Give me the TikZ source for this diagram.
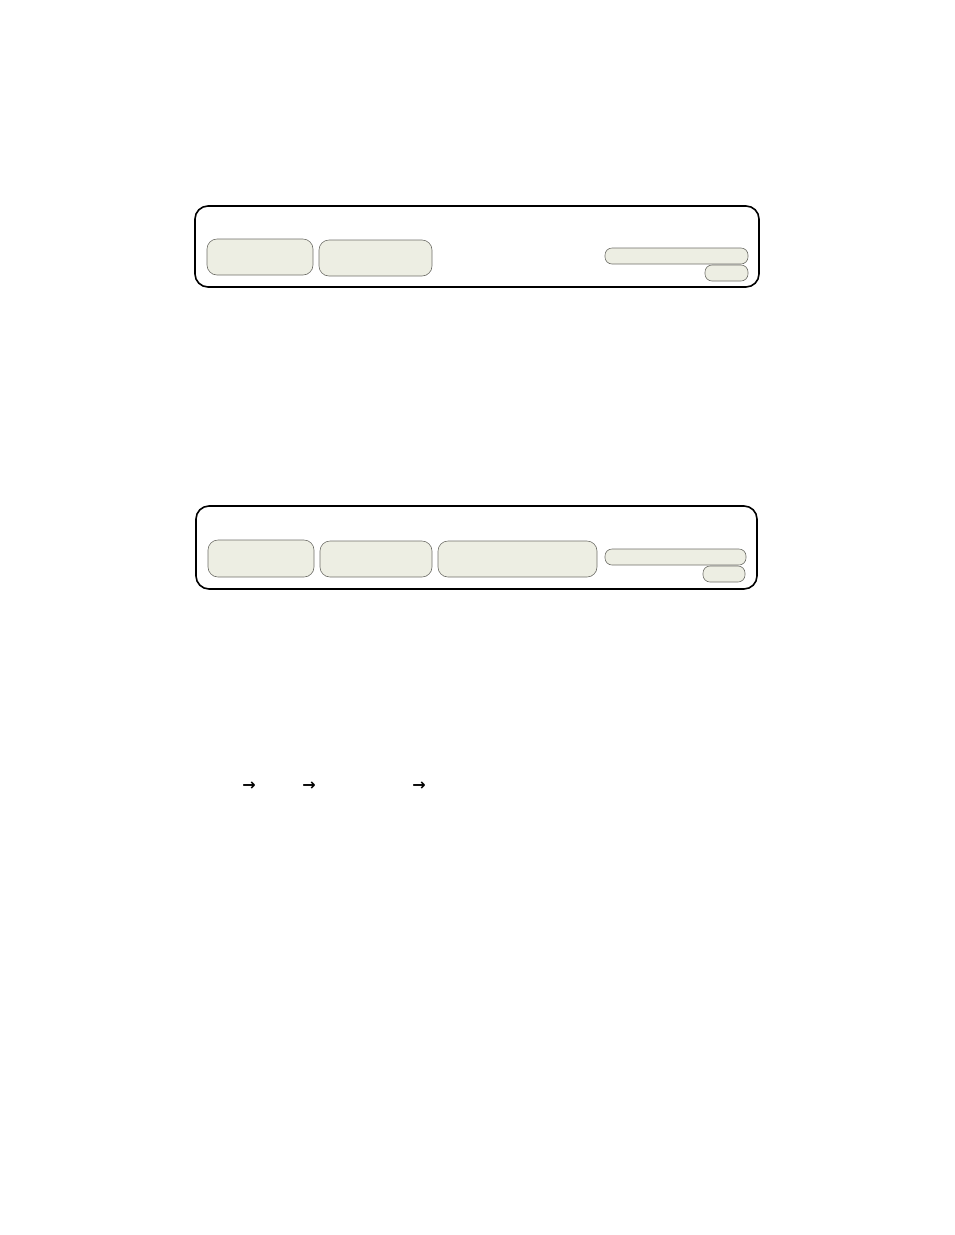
\documentclass[tikz,border=0pt]{standalone}
\usepackage{fontspec}
\newfontfamily\symfont{DejaVu Sans}
\definecolor{pane}{HTML}{EDEEE3}
\definecolor{paneedge}{HTML}{6E6E68}
\tikzset{
  frame/.style={draw=black, line width=1.6pt, rounded corners=13pt},
  pill/.style={draw=paneedge, fill=pane, line width=0.6pt, rounded corners=10pt},
  slim/.style={draw=paneedge, fill=pane, line width=0.6pt, rounded corners=7pt},
  arr/.style={inner sep=0pt, font=\symfont\bfseries\fontsize{16}{16}\selectfont}
}
\begin{document}
\begin{tikzpicture}[x=1pt,y=-1pt]
\useasboundingbox (0,0) rectangle (954,1235);
% panel 1
\draw[frame] (195,206) rectangle (759,287);
\draw[pill] (207,239) rectangle (313,275);
\draw[pill] (319,240) rectangle (432,276);
\draw[slim] (605,248) rectangle (748,264);
\draw[slim] (705,265) rectangle (748,281);
% panel 2
\draw[frame] (196,506) rectangle (757,589);
\draw[pill] (208,540) rectangle (314,577);
\draw[pill] (320,541) rectangle (432,577);
\draw[pill] (438,541) rectangle (597,577);
\draw[slim] (605,549) rectangle (746,565);
\draw[slim] (703,566) rectangle (745,582);
% arrows
\node[arr] (a1) at (249,786) {→};
\node[arr] (a2) at (309,786) {→};
\node[arr] (a3) at (419,786) {→};
\end{tikzpicture}
\end{document}
